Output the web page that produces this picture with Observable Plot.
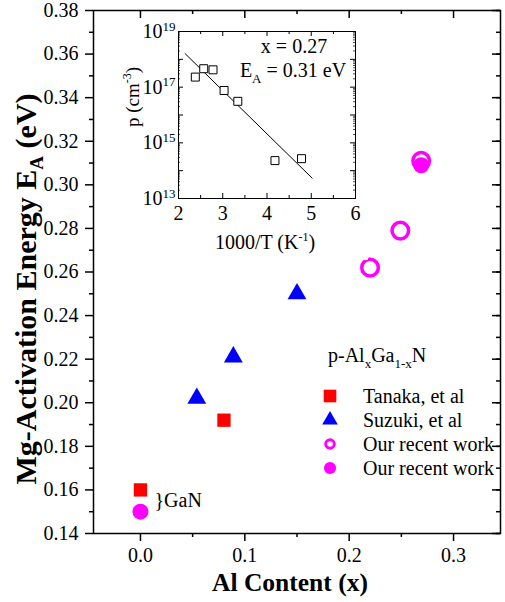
<!DOCTYPE html>
<html><head><meta charset="utf-8">
<script src="https://cdn.jsdelivr.net/npm/d3@7"></script>
<script src="https://cdn.jsdelivr.net/npm/@observablehq/plot@0.6"></script>
<style>
body{margin:0;background:#fff;}
#wrap{position:relative;width:505px;height:602px;}
#inset{position:absolute;left:118px;top:20px;}
</style></head><body><div id="wrap"><div id="main"></div><div id="inset"></div></div>
<script>
// ---- data ----
const tanakaX = [0.000, 0.080];
const tanakaY = [0.160, 0.192];
const suzukiX = [0.054, 0.089, 0.150];
const suzukiY = [0.202, 0.221, 0.250];
const openX = [0.220, 0.249, 0.269];
const openY = [0.262, 0.279, 0.311];
const filledX = [0.000, 0.269];
const filledY = [0.150, 0.309];
const insetT = [2.38, 2.57, 2.78, 3.03, 3.34, 4.18, 4.78];
const insetP = [2.3e17, 4.6e17, 4.2e17, 7.6e16, 3.1e16, 2.3e14, 2.7e14];
const fitT = [2.15, 5.02];
const fitP = [1.6e18, 5.4e13];
const yTicks = [0.14, 0.16, 0.18, 0.20, 0.22, 0.24, 0.26, 0.28, 0.30, 0.32, 0.34, 0.36, 0.38];
const xTicks = [0.0, 0.1, 0.2, 0.3];
const insetXTicks = [2, 3, 4, 5, 6];
const insetYTicks = [1e13, 1e15, 1e17, 1e19];
const legendLabels = ["Tanaka, et al", "Suzuki, et al", "Our recent work", "Our recent work"];
const gaNote = [{x: 0, y: 0.155, text: "}GaN"}];

const zip = (xs, ys) => xs.map((x, i) => ({x, y: ys[i]}));
const tanaka = zip(tanakaX, tanakaY);
const suzuki = zip(suzukiX, suzukiY);
const openPts = zip(openX, openY);
const filledPts = zip(filledX, filledY);
const insetPts = zip(insetT, insetP);
const fit = zip(fitT, fitP);

const FONT = "'Liberation Serif','Times New Roman',serif";
const W = 505, H = 602, mL = 93, mT = 10, mR = 5, mB = 69;
const fw = W - mL - mR, fh = H - mT - mB;
const yMinor = d3.range(0.15, 0.38, 0.02);
const yAllR = d3.range(0.14, 0.3801, 0.01);
const xMinor = [0.05, 0.15, 0.25];

const main = Plot.plot({
  width: W, height: H, marginLeft: mL, marginTop: mT, marginRight: mR, marginBottom: mB,
  style: {fontFamily: FONT, fontSize: "20px", color: "#000", background: "#fff", overflow: "visible"},
  x: {domain: [-0.045, 0.345]},
  y: {domain: [0.14, 0.38]},
  marks: [
    Plot.frame({stroke: "#000", strokeWidth: 1.5}),
    Plot.axisY(yMinor, {anchor: "left", tickSize: 4, strokeWidth: 1.5, tickFormat: () => "", label: null}),
    Plot.axisY(yTicks, {anchor: "left", tickSize: 8, strokeWidth: 1.5, tickPadding: 7, tickFormat: d => d.toFixed(2), label: null}),
    Plot.axisX(xMinor, {anchor: "bottom", tickSize: 4, strokeWidth: 1.5, tickFormat: () => "", label: null}),
    Plot.axisX(xTicks, {anchor: "bottom", tickSize: 8, strokeWidth: 1.5, tickPadding: 6, tickFormat: d => d.toFixed(1), label: null}),
    Plot.tickY(yAllR, {y: d => d, insetLeft: fw - 4, strokeWidth: 1.5}),
    Plot.tickY(yTicks, {y: d => d, insetLeft: fw - 8, strokeWidth: 1.5}),
    Plot.tickX(xMinor, {x: d => d, insetBottom: fh - 4, strokeWidth: 1.5}),
    Plot.tickX(xTicks, {x: d => d, insetBottom: fh - 8, strokeWidth: 1.5}),
    Plot.dot(tanaka, {x: "x", y: "y", symbol: "square", fill: "#ff0000", r: 7.5}),
    Plot.dot(suzuki, {x: "x", y: "y", symbol: "triangle", fill: "#0000ff", r: 7}),
    Plot.dot(openPts, {x: "x", y: "y", symbol: "circle", stroke: "#ff00ff", fill: "none", strokeWidth: 3.5, r: 8.3}),
    Plot.dot(filledPts, {x: "x", y: "y", symbol: "circle", fill: "#ff00ff", r: 8}),
    Plot.text(gaNote, {x: "x", y: "y", text: "text", dx: 14, textAnchor: "start", fontSize: 20})
  ]
});
document.getElementById("main").appendChild(main);

const svg = d3.select(main);
// y axis title
const yt = svg.append("text")
  .attr("transform", "translate(36,289) rotate(-90)")
  .attr("text-anchor", "middle")
  .style("font-family", FONT).style("font-weight", "bold").style("font-size", "30px").attr("fill", "#000");
yt.append("tspan").text("Mg-Activation Energy E");
yt.append("tspan").text("A").attr("dy", 7).style("font-size", "19px");
yt.append("tspan").text(" (eV)").attr("dy", -7);
// x axis title
svg.append("text").attr("x", 290).attr("y", 591).attr("text-anchor", "middle")
  .style("font-family", FONT).style("font-weight", "bold").style("font-size", "25.5px").attr("fill", "#000")
  .text("Al Content (x)");

// legend
const lg = svg.append("g").style("font-family", FONT).style("font-size", "20px").attr("fill", "#000").attr("text-anchor", "start");
const lt = lg.append("text").attr("x", 328).attr("y", 362).attr("text-anchor", "start");
lt.append("tspan").text("p-Al");
lt.append("tspan").text("x").attr("dy", 6).style("font-size", "13px");
lt.append("tspan").text("Ga").attr("dy", -6);
lt.append("tspan").text("1-x").attr("dy", 6).style("font-size", "13px");
lt.append("tspan").text("N").attr("dy", -6);
const rows = [396, 420, 444, 468];
const sym = [
  {type: d3.symbolSquare, size: 160, fill: "#ff0000", stroke: "none", sw: 0},
  {type: d3.symbolTriangle, size: 105, fill: "#0000ff", stroke: "none", sw: 0},
  {type: d3.symbolCircle, size: 58, fill: "none", stroke: "#ff00ff", sw: 3},
  {type: d3.symbolCircle, size: 115, fill: "#ff00ff", stroke: "none", sw: 0}
];
legendLabels.forEach((lab, i) => {
  lg.append("path").attr("d", d3.symbol(sym[i].type, sym[i].size)())
    .attr("transform", `translate(330,${rows[i]})`)
    .attr("fill", sym[i].fill).attr("stroke", sym[i].stroke).attr("stroke-width", sym[i].sw);
  lg.append("text").attr("x", 363).attr("y", rows[i] + 7).attr("text-anchor", "start").text(lab);
});

// ---- inset ----
const iW = 250, iH = 240, iL = 60, iT = 11, iR = 13, iB = 62;
const ifw = iW - iL - iR, ifh = iH - iT - iB;
const iXMinor = [2.5, 3.5, 4.5, 5.5];
const iYMajor = [1e13, 1e14, 1e15, 1e16, 1e17, 1e18, 1e19];
const iYMinor = [];
for (let e = 13; e < 19; e++) for (let m = 2; m < 10; m++) iYMinor.push(m * Math.pow(10, e));

const inset = Plot.plot({
  width: iW, height: iH, marginLeft: iL, marginTop: iT, marginRight: iR, marginBottom: iB,
  style: {fontFamily: FONT, fontSize: "20px", color: "#000", background: "#fff", overflow: "visible"},
  x: {domain: [2, 6]},
  y: {type: "log", domain: [1e13, 1e19]},
  marks: [
    Plot.frame({stroke: "#000", strokeWidth: 1}),
    Plot.tickX(insetXTicks, {x: d => d, insetTop: ifh - 5}),
    Plot.tickX(insetXTicks, {x: d => d, insetBottom: ifh - 5}),
    Plot.tickX(iXMinor, {x: d => d, insetTop: ifh - 3}),
    Plot.tickX(iXMinor, {x: d => d, insetBottom: ifh - 3}),
    Plot.tickY(iYMajor, {y: d => d, insetRight: ifw - 5}),
    Plot.tickY(iYMajor, {y: d => d, insetLeft: ifw - 5}),
    Plot.tickY(iYMinor, {y: d => d, insetRight: ifw - 2, strokeWidth: 0.7}),
    Plot.tickY(iYMinor, {y: d => d, insetLeft: ifw - 2, strokeWidth: 0.7}),
    Plot.axisX(insetXTicks, {anchor: "bottom", tickSize: 0, tickPadding: 7, label: null}),
    Plot.axisY(insetYTicks, {anchor: "left", tickSize: 0, tickPadding: 3, tickFormat: d => String(Math.round(Math.log10(d))), label: null}),
    Plot.line(fit, {x: "x", y: "y", stroke: "#000", strokeWidth: 1}),
    Plot.dot(insetPts, {x: "x", y: "y", symbol: "square", stroke: "#000", fill: "#fff", strokeWidth: 1, r: 4.5})
  ]
});
document.getElementById("inset").appendChild(inset);
const isvg = d3.select(inset);
isvg.selectAll('[aria-label="y-axis tick label"] text').each(function() {
  const el = d3.select(this);
  const ex = el.text();
  el.text("");
  el.append("tspan").text("10");
  el.append("tspan").text(ex).attr("dy", "-0.55em").style("font-size", "13px");
});
const ig = isvg.append("g").style("font-family", FONT).style("font-size", "20px").attr("fill", "#000");
ig.append("text").attr("x", 176).attr("y", 33).attr("text-anchor", "middle").text("x = 0.27");
const ea = ig.append("text").attr("x", 175).attr("y", 57).attr("text-anchor", "middle");
ea.append("tspan").text("E");
ea.append("tspan").text("A").attr("dy", 6).style("font-size", "13px");
ea.append("tspan").text(" = 0.31 eV").attr("dy", -6);
const xl = ig.append("text").attr("x", 147).attr("y", 229).attr("text-anchor", "middle").style("font-size", "20px");
xl.append("tspan").text("1000/T (K");
xl.append("tspan").text("-1").attr("dy", -8).style("font-size", "12px");
xl.append("tspan").text(")").attr("dy", 8);
const yl = ig.append("text").attr("transform", "translate(21,77) rotate(-90)").attr("text-anchor", "middle").style("font-size", "19px");
yl.append("tspan").text("p (cm");
yl.append("tspan").text("-3").attr("dy", -8).style("font-size", "12px");
yl.append("tspan").text(")").attr("dy", 8);
</script></body></html>
